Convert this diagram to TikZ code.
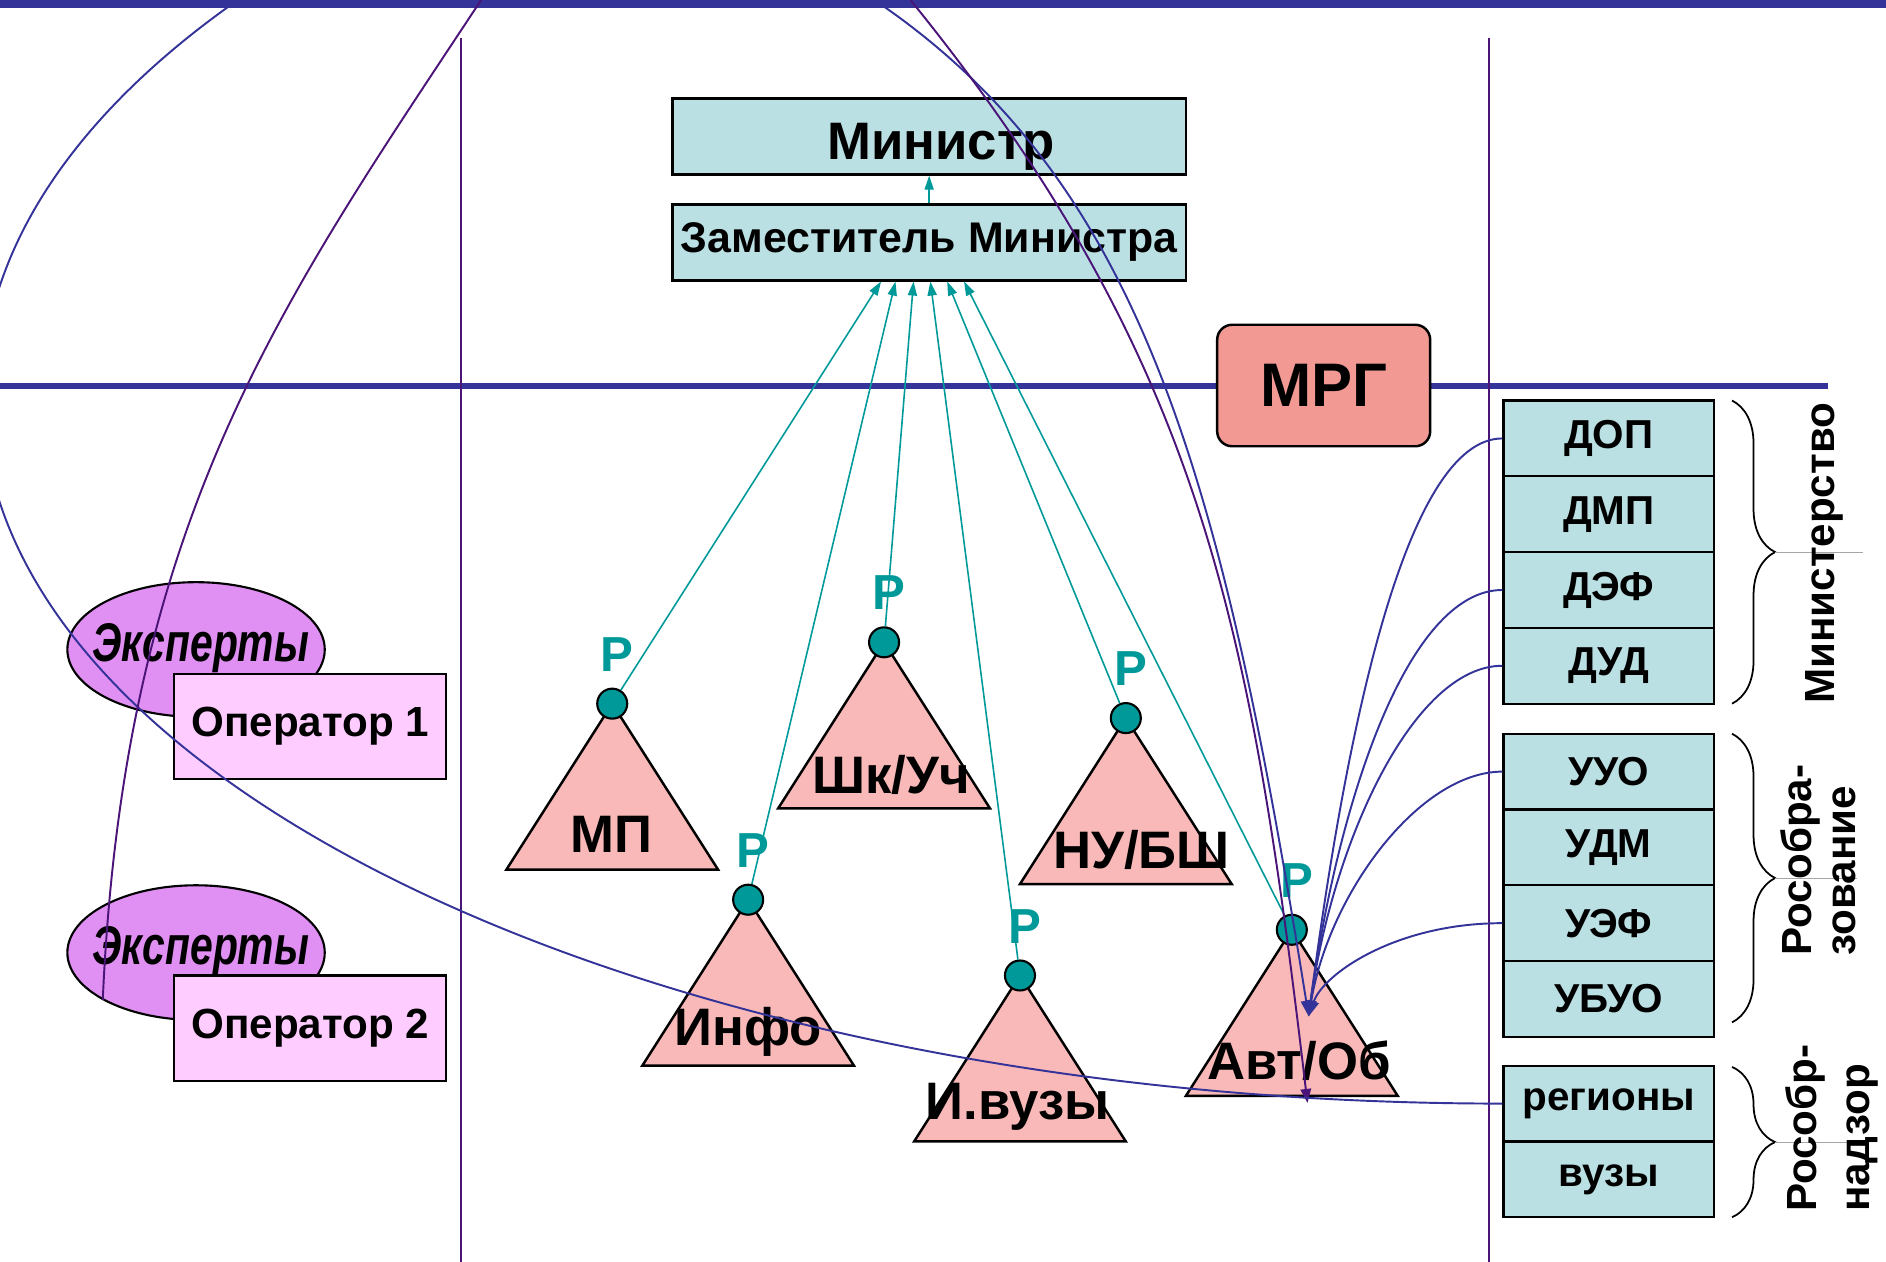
\documentclass[tikz,border=0pt]{standalone}
\usepackage{fontspec}
\setmainfont{Liberation Sans}
\newfontfamily\narrowsans[FakeStretch=0.75]{Liberation Sans}
\usetikzlibrary{calc,arrows.meta,shapes.geometric,decorations.pathreplacing}

\definecolor{boxteal}{HTML}{BBE0E3}
\definecolor{mrgred}{HTML}{F29994}
\definecolor{tripink}{HTML}{F8B9B8}
\definecolor{operpink}{HTML}{FFCCFF}
\definecolor{exppurple}{HTML}{E08FF2}
\definecolor{rteal}{HTML}{009999}
\definecolor{lineblue}{HTML}{333399}
\definecolor{linepurple}{HTML}{4B1478}

\begin{document}
\begin{tikzpicture}[x=0.12028mm,y=-0.12028mm,
  unit/.style={draw=black,line width=0.6pt,fill=boxteal,inner sep=0pt,minimum width=21.05mm,minimum height=7.58mm,font=\fontsize{11.5}{13}\selectfont\bfseries},
  head/.style={draw=black,line width=0.7pt,fill=boxteal,inner sep=0pt,minimum width=51.36mm,minimum height=7.58mm},
  oper/.style={draw=black,line width=0.6pt,fill=operpink,inner sep=0pt,minimum width=27.18mm,minimum height=10.58mm,font=\fontsize{12}{14}\selectfont\bfseries},
  expert/.style={ellipse,draw=black,line width=0.6pt,fill=exppurple,inner sep=0pt,minimum width=25.74mm,minimum height=13.47mm},
  exptext/.style={font=\narrowsans\fontsize{15.5}{18}\selectfont\bfseries\itshape},
  tri/.style={draw=black,line width=0.7pt,fill=tripink},
  knot/.style={circle,draw=black,line width=0.6pt,fill=rteal,inner sep=0pt,minimum size=3mm},
  trilabel/.style={font=\fontsize{15}{18}\selectfont\bfseries},
  plabel/.style={text=rteal,font=\fontsize{14}{16}\selectfont\bfseries},
  report/.style={rteal,line width=0.45pt,-{Triangle[length=4pt,width=2.6pt]}},
  feed/.style={lineblue,line width=0.55pt,-{Triangle[length=4.5pt,width=3pt]}},
  grouplabel/.style={rotate=90,align=left,font=\fontsize{12}{12.5}\selectfont\bfseries},
  groupbrace/.style={decorate,decoration={brace,amplitude=4.3mm},line width=0.5pt}
]
\useasboundingbox (0,0) rectangle (1568,1049);
\clip (0,0) rectangle (1568,1049);

% frame lines
\fill[lineblue] (0,0) rectangle (1568,7);
\fill[lineblue] (0,318) rectangle (1520,323);
\draw[linepurple,line width=0.6pt] (383,32) -- (383,1049);
\draw[linepurple,line width=0.6pt] (1238,32) -- (1238,1049);

% ministry
\node[head,text height=15.8pt,text depth=3pt,font=\fontsize{15}{18}\selectfont\bfseries] (min) at (772.5,113.5) {\hspace*{6.8pt}Министр};
\node[head,font=\fontsize{12.2}{14}\selectfont\bfseries] (zam) at (772.5,201.5) {Заместитель Министра};
\draw[report] (zam) -- (min);

\node[draw=black,line width=0.7pt,fill=mrgred,rounded corners=1.5mm,inner sep=0pt,minimum width=21.3mm,minimum height=12.15mm,font=\fontsize{17.5}{20}\selectfont\bfseries] (mrg) at (1100.5,320.5) {МРГ};

% experts
\node[expert] (exp1) at (163,540) {};
\node[oper] (op1) at (258,604) {Оператор 1};
\node[exptext] at (167,539) {Эксперты};
\node[expert] (exp2) at (163,792) {};
\node[oper] (op2) at (258,855) {Оператор 2};
\node[exptext] at (167,791) {Эксперты};

% working groups
\begin{scope}[shift={(509,585)}]
\draw[tri] (0,0) -- (88,138) -- (-88,138) -- cycle;
\node[knot] (mp) at (0,0) {};
\node[plabel] at (4,-41) {Р};
\node[trilabel] at (-1,109) {МП};
\end{scope}
\begin{scope}[shift={(735,534)}]
\draw[tri] (0,0) -- (88,138) -- (-88,138) -- cycle;
\node[knot] (shk) at (0,0) {};
\node[plabel] at (4,-41) {Р};
\node[trilabel] at (6,110) {Шк/Уч};
\end{scope}
\begin{scope}[shift={(936,597)}]
\draw[tri] (0,0) -- (88,138) -- (-88,138) -- cycle;
\node[knot] (nu) at (0,0) {};
\node[plabel] at (4,-41) {Р};
\node[trilabel] at (13,110) {НУ/БШ};
\end{scope}
\begin{scope}[shift={(622,748)}]
\draw[tri] (0,0) -- (88,138) -- (-88,138) -- cycle;
\node[knot] (info) at (0,0) {};
\node[plabel] at (4,-41) {Р};
\node[trilabel] at (0,110) {Инфо};
\end{scope}
\begin{scope}[shift={(848,811)}]
\draw[tri] (0,0) -- (88,138) -- (-88,138) -- cycle;
\node[knot] (ivuz) at (0,0) {};
\node[plabel] at (4,-41) {Р};
\node[trilabel] at (-2,109) {И.вузы};
\end{scope}
\begin{scope}[shift={(1074,773)}]
\draw[tri] (0,0) -- (88,138) -- (-88,138) -- cycle;
\node[knot] (avt) at (0,0) {};
\node[plabel] at (4,-41) {Р};
\node[trilabel] at (6,109) {Авт/Об};
\end{scope}

\draw[report] (mp) -- ($(zam.south)+(-40,0)$);
\draw[report] (info) -- ($(zam.south)+(-28,0)$);
\draw[report] (shk) -- ($(zam.south)+(-13,0)$);
\draw[report] (ivuz) -- ($(zam.south)+(1,0)$);
\draw[report] (nu) -- ($(zam.south)+(15,0)$);
\draw[report] (avt) -- ($(zam.south)+(29,0)$);

% departments
\node[unit] (dop) at (1337.5,364.5) {ДОП};
\node[unit] (dmp) at (1337.5,427.5) {ДМП};
\node[unit] (def) at (1337.5,490.5) {ДЭФ};
\node[unit] (dud) at (1337.5,553.5) {ДУД};
\node[unit] (uuo) at (1337.5,641.5) {УУО};
\node[unit] (udm) at (1337.5,704.5) {УДМ};
\node[unit] (uef) at (1337.5,767.5) {УЭФ};
\node[unit] (ubuo) at (1337.5,830.5) {УБУО};
\node[unit] (reg) at (1337.5,917.5) {регионы};
\node[unit] (vuz) at (1337.5,980.5) {вузы};

\draw[groupbrace] (1440,333) -- (1440,585);
\draw[groupbrace] (1440,610) -- (1440,850);
\draw[groupbrace] (1440,887) -- (1440,1012);
\draw[gray!70,line width=0.3pt] (1476,459) -- (1549,459);
\draw[gray!70,line width=0.3pt] (1476,730) -- (1544,730);
\draw[gray!70,line width=0.3pt] (1476,950) -- (1553,950);
\node[grouplabel] at (1517,460) {Министерство};
\node[grouplabel] at (1512,715) {Рособра-\\зование};
\node[grouplabel,font=\fontsize{12}{15}\selectfont\bfseries] at (1523,938) {Рособр-\\надзор};

% links
\coordinate (tipB) at (1088,845);
\coordinate (tipP) at (1087,917);
\coordinate (topB) at (727,0);
\coordinate (topP) at (757,0);
\coordinate (topL) at (400,0);
\draw[feed] (dop.west) .. controls (1170,364.5) and (1120,600) .. (tipB);
\draw[feed] (def.west) .. controls (1170,490.5) and (1112,668) .. (tipB);
\draw[feed] (dud.west) .. controls (1175,553.5) and (1108,700) .. (tipB);
\draw[feed] (uuo.west) .. controls (1180,641.5) and (1105,743) .. (tipB);
\draw[feed] (uef.west) .. controls (1160,767.5) and (1100,810) .. (tipB);
\draw[feed] (topB) .. controls (949,150) and (1016,395) .. (tipB);
\draw[linepurple,line width=0.55pt,-{Triangle[length=4pt,width=3pt]}] (topP) .. controls (1000,300) and (1040,520) .. (tipP);
\draw[lineblue,line width=0.55pt] (reg.west) arc[start angle=90,end angle=225,x radius=1264,y radius=590];
\draw[linepurple,line width=0.55pt] (topL) .. controls (235,250) and (103,431) .. (exp2.207);
\end{tikzpicture}
\end{document}
